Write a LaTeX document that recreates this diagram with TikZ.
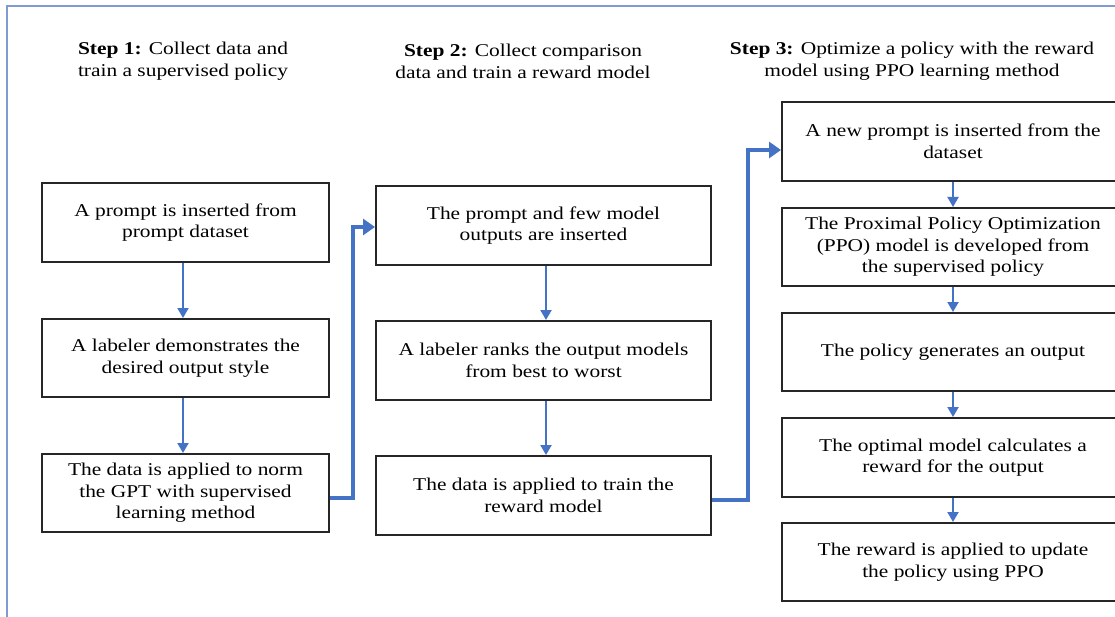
\documentclass[tikz,border=0pt]{standalone}
\usepackage{fontspec}
\setmainfont{Liberation Serif}[FakeStretch=1.19]
\usetikzlibrary{arrows.meta,positioning}
\definecolor{flowblue}{HTML}{4472C4}
\definecolor{frameblue}{HTML}{7F9BCF}
\tikzset{
  stepbox/.style={draw=black!85, line width=2pt, align=center, inner sep=0pt,
    font=\fontsize{18}{21.5}\selectfont},
  head/.style={align=center, font=\fontsize{18}{22}\selectfont},
  thin arrow/.style={draw=flowblue, line width=2pt, -{Triangle[length=10pt,width=11pt]}},
  thick arrow/.style={draw=flowblue, line width=4pt, -{Triangle[length=12pt,width=16pt]}},
}
\begin{document}
\begin{tikzpicture}[x=1pt,y=-1pt]
\useasboundingbox (0,0) rectangle (1115,617);
\clip (0,0) rectangle (1115,617);
\fill[white] (0,0) rectangle (1115,617);
% frame lines
\draw[frameblue, line width=1.2pt] (7,617) -- (7,6) -- (1115,6);

% headers
\node[head] (h1) at (183,61) {\textbf{Step 1:} Collect data and\\train a supervised policy};
\node[head] (h2) at (523,61) {\textbf{Step 2:} Collect comparison\\data and train a reward model};
\node[head] (h3) at (912,61) {\textbf{Step 3:} Optimize a policy with the reward\\model using PPO learning method};

% column 1
\node[stepbox, minimum width=287pt, minimum height=79pt] (a1) at (185.5,222.5) {A prompt is inserted from\\prompt dataset};
\node[stepbox, minimum width=287pt, minimum height=78pt] (a2) at (185.5,358) {A labeler demonstrates the\\desired output style};
\node[stepbox, minimum width=287pt, minimum height=78pt] (a3) at (185.5,493) {The data is applied to norm\\the GPT with supervised\\learning method};

% column 2
\node[stepbox, minimum width=335pt, minimum height=79pt] (b1) at (543.5,225.5) {The prompt and few model\\outputs are inserted};
\node[stepbox, minimum width=335pt, minimum height=79pt] (b2) at (543.5,360.5) {A labeler ranks the output models\\from best to worst};
\node[stepbox, minimum width=335pt, minimum height=79pt] (b3) at (543.5,495.5) {The data is applied to train the\\reward model};

% column 3
\node[stepbox, minimum width=342pt, minimum height=79pt] (c1) at (953,141.5) {A new prompt is inserted from the\\dataset};
\node[stepbox, minimum width=342pt, minimum height=78pt] (c2) at (953,247) {The Proximal Policy Optimization\\(PPO) model is developed from\\the supervised policy};
\node[stepbox, minimum width=342pt, minimum height=78pt] (c3) at (953,352) {The policy generates an output};
\node[stepbox, minimum width=342pt, minimum height=79pt] (c4) at (953,457.5) {The optimal model calculates a\\reward for the output};
\node[stepbox, minimum width=342pt, minimum height=78pt] (c5) at (953,562) {The reward is applied to update\\the policy using PPO};

% vertical arrows
\draw[thin arrow] ([xshift=-2.5pt]a1.south) -- ([xshift=-2.5pt]a2.north);
\draw[thin arrow] ([xshift=-2.5pt]a2.south) -- ([xshift=-2.5pt]a3.north);
\draw[thin arrow] ([xshift=2.5pt]b1.south) -- ([xshift=2.5pt]b2.north);
\draw[thin arrow] ([xshift=2.5pt]b2.south) -- ([xshift=2.5pt]b3.north);
\draw[thin arrow] (c1.south) -- (c2.north);
\draw[thin arrow] (c2.south) -- (c3.north);
\draw[thin arrow] (c3.south) -- (c4.north);
\draw[thin arrow] (c4.south) -- (c5.north);

% step connectors
\draw[thick arrow] ([yshift=-5pt]a3.east) -- ++(23,0) |- ([yshift=-1.5pt]b1.west);
\draw[thick arrow] ([yshift=-4.5pt]b3.east) -- ++(36,0) |- ([yshift=-8.5pt]c1.west);
\end{tikzpicture}
\end{document}
